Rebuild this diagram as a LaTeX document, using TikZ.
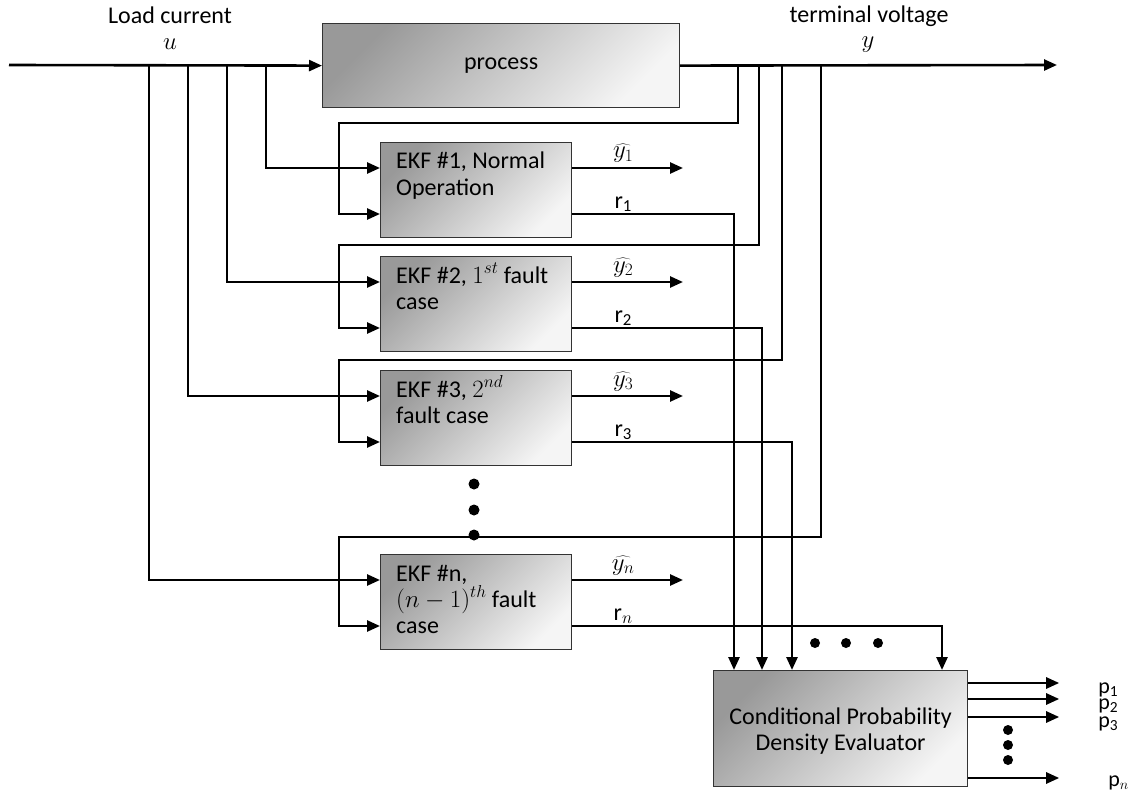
\documentclass[tikz,border=0pt]{standalone}
\usepackage{fontspec}
\setmainfont{Carlito}
\usetikzlibrary{arrows.meta,calc}
\begin{document}
\begin{tikzpicture}[x=1pt,y=-1pt,
  arr/.style={line width=2.6pt,-{Triangle[length=13pt,width=11pt]}},
  blk/.style={draw=black!80,line width=1.2pt,top color=black!40,bottom color=black!4,shading angle=45,inner sep=0pt,anchor=north west},
  ekfbox/.style={blk,minimum width=191pt,minimum height=95pt},
  big/.style={font=\fontsize{24}{26}\selectfont,inner sep=0pt},
  small/.style={font=\fontsize{22}{25}\selectfont,inner sep=0pt},
  bdot/.style={circle,fill=black,inner sep=0pt,minimum size=#1},
  bdot/.default=11pt
]
\useasboundingbox (0,0) rectangle (1133,797);

% process
\node[blk,minimum width=357pt,minimum height=84pt] (proc) at (322,23) {};
\node[big] (proct) at (proc.center) {process};
\coordinate (u0) at (9,65);
\coordinate (yend) at (1057,65);
\draw[arr] (u0) -- (proc.west);
\draw[arr] (proc.east) -- (yend);

\node[big,anchor=base] (lc) at (170,24) {Load current};
\node[big,anchor=base] (ul) at (170,50) {$u$};
\node[big,anchor=base] (tv) at (869,23) {terminal voltage};
\node[big,anchor=base] (yl) at (868,48) {$y$};

% EKF boxes
\foreach \k/\t in {1/142,2/256,3/370,n/554}{
  \node[ekfbox] (e\k) at (380,\t) {};
  \coordinate (e\k-a) at ($(e\k.north west)+(0,26)$);
  \coordinate (e\k-b) at ($(e\k.north west)+(0,72)$);
  \coordinate (e\k-o) at ($(e\k.north east)+(0,26)$);
  \coordinate (e\k-r) at ($(e\k.north east)+(0,72)$);
}
% base anchor = baseline of the last line
\node[big,anchor=base west,align=left] (e1t) at ($(e1.north west)+(16,53)$) {EKF \#1, Normal\\Operation};
\node[big,anchor=base west,align=left] (e2t) at ($(e2.north west)+(16,53)$) {EKF \#2, $1^{st}$ fault\\case};
\node[big,anchor=base west,align=left] (e3t) at ($(e3.north west)+(16,53)$) {EKF \#3, $2^{nd}$\\fault case};
\node[big,anchor=base west,align=left] (ent) at ($(en.north west)+(16,79)$) {EKF \#n,\\$(n-1)^{th}$ fault\\case};

% CPDE
\node[blk,minimum width=254pt,minimum height=116pt] (cp) at (713,670) {};
\node[big,align=center] (cpt) at ($(cp.center)+(0,2)$) {Conditional Probability\\Density Evaluator};

% input branches
\foreach \k/\x in {1/266,2/227,3/188,n/149}{
  \coordinate (u\k) at (\x,65);
  \draw[arr] (u\k) |- (e\k-a);
}

% measured output feedback
\foreach \k/\x/\ly in {1/738/123,2/759/245,3/782/360,n/821/537}{
  \coordinate (y\k) at (\x,65);
  \coordinate (l\k) at (339,\ly);
  \draw[arr] (y\k) |- (l\k) |- (e\k-b);
}

% estimated outputs
\coordinate (hx) at (683,0);
\foreach \k/\lab in {1/{$\widehat{y_1}$},2/{$\widehat{y_2}$},3/{$\widehat{y_3}$},n/{$\widehat{y_n}$}}{
  \draw[arr] (e\k-o) -- (e\k-o -| hx);
  \node[big,anchor=base] (h\k) at ($(e\k-o)+(51,-10)$) {\lab};
}

% residuals
\foreach \k/\dx/\lab in {1/21/{r\textsubscript{1}},2/49/{r\textsubscript{2}},3/79/{r\textsubscript{3}},n/229/{r$_n$}}{
  \coordinate (t\k) at ($(cp.north west)+(\dx,0)$);
  \draw[arr] (e\k-r) -| (t\k);
  \node[big,anchor=base] (rl\k) at ($(e\k-r)+(51,-6)$) {\lab};
}

% probability outputs
\foreach \i/\dy/\dx/\ly/\lab in {1/13/39/10/{p\textsubscript{1}},2/29/39/10/{p\textsubscript{2}},3/47/39/10/{p\textsubscript{3}},n/108/49/8/{p$_n$}}{
  \coordinate (c\i) at ($(cp.north east)+(0,\dy)$);
  \coordinate (p\i) at ($(c\i)+(91,0)$);
  \draw[arr] (c\i) -- (p\i);
  \node[small,anchor=base west] (pl\i) at ($(p\i)+(\dx,\ly)$) {\lab};
}

% ellipsis dots
\node[bdot] (d1) at (474,484) {};
\node[bdot] (d2) at (474,510) {};
\node[bdot] (d3) at (474,535) {};
\node[bdot=10pt] (d4) at (815,643) {};
\node[bdot=10pt] (d5) at (846,643) {};
\node[bdot=10pt] (d6) at (878,643) {};
\node[bdot=10pt] (d7) at (1008,730) {};
\node[bdot=10pt] (d8) at (1008,745) {};
\node[bdot=10pt] (d9) at (1008,760) {};
\end{tikzpicture}
\end{document}
